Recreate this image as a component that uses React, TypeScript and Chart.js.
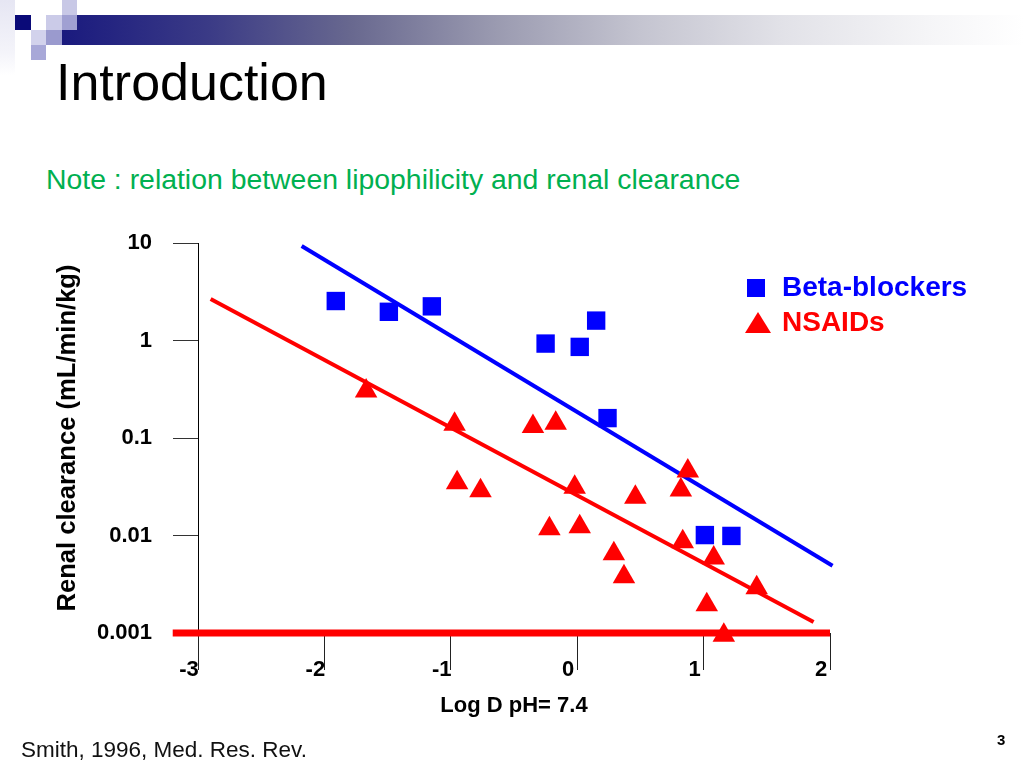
import React, { useEffect, useRef } from "react";
import { Chart, registerables } from "chart.js";

Chart.register(...registerables);

// ---- data ----
const xTickValues = [-3, -2, -1, 0, 1, 2];
const xTickLabels = ["-3", "-2", "-1", "0", "1", "2"];
const yTickValues = [10, 1, 0.1, 0.01, 0.001];
const yTickLabels = ["10", "1", "0.1", "0.01", "0.001"];

const betaLogD = [-1.91, -1.49, -1.15, -0.25, 0.02, 0.15, 0.24, 1.01, 1.22];
const betaClearance = [2.54, 1.97, 2.24, 0.93, 0.86, 1.6, 0.16, 0.0101, 0.0099];

const nsaidLogD = [-1.67, -0.97, -0.35, -0.17, 0.875, -0.95, -0.765, -0.02, 0.46, 0.82, -0.22, 0.02, 0.835, 0.29, 1.08, 0.37, 1.42, 1.025, 1.16];
const nsaidClearance = [0.303, 0.138, 0.131, 0.142, 0.0459, 0.0348, 0.0288, 0.0312, 0.0247, 0.0293, 0.01175, 0.0123, 0.00865, 0.0065, 0.00587, 0.00378, 0.00292, 0.00195, 0.00095];

const betaFitLogD = [-2.18, 2.02];
const betaFitClearance = [9.3, 0.0049];
const nsaidFitLogD = [-2.9, 1.87];
const nsaidFitClearance = [2.67, 0.0013];
const baselineLogD = [-3.2, 2];
const baselineClearance = [0.001, 0.001];

const seriesNames = ["Beta-blockers", "NSAIDs"];

const FONT = '"Liberation Sans", Arial, Helvetica, sans-serif';
const BLUE = "#0000FF";
const RED = "#FF0000";

const pts = (xs: number[], ys: number[]) => xs.map((x, i) => ({ x, y: ys[i] }));

export default function App() {
  const canvasRef = useRef<HTMLCanvasElement | null>(null);

  useEffect(() => {
    if (!canvasRef.current) return;
    const chart = new Chart(canvasRef.current, {
      type: "scatter",
      data: {
        datasets: [
          {
            label: seriesNames[0],
            data: pts(betaLogD, betaClearance),
            pointStyle: "rect",
            pointRadius: 13,
            pointBorderWidth: 0,
            backgroundColor: BLUE,
            borderColor: BLUE,
            clip: false,
            order: 1,
          },
          {
            label: seriesNames[1],
            data: pts(nsaidLogD, nsaidClearance),
            pointStyle: "triangle",
            pointRadius: 13,
            pointBorderWidth: 0,
            backgroundColor: RED,
            borderColor: RED,
            clip: false,
            order: 1,
          },
          {
            label: "fit-beta",
            data: pts(betaFitLogD, betaFitClearance),
            showLine: true,
            borderColor: BLUE,
            borderWidth: 4,
            pointRadius: 0,
            clip: false,
            order: 2,
          },
          {
            label: "fit-nsaid",
            data: pts(nsaidFitLogD, nsaidFitClearance),
            showLine: true,
            borderColor: RED,
            borderWidth: 4,
            pointRadius: 0,
            clip: false,
            order: 2,
          },
          {
            label: "baseline",
            data: pts(baselineLogD, baselineClearance),
            showLine: true,
            borderColor: RED,
            borderWidth: 7,
            pointRadius: 0,
            clip: false,
            order: 3,
          },
        ],
      },
      options: {
        animation: false,
        responsive: false,
        maintainAspectRatio: false,
        devicePixelRatio: 1,
        layout: { padding: { left: 50, top: 243, right: 194, bottom: 49 } },
        plugins: { legend: { display: false }, tooltip: { enabled: false } },
        scales: {
          x: {
            type: "linear",
            min: -3,
            max: 2,
            afterBuildTicks: (scale: any) => {
              scale.ticks = xTickValues.map((v) => ({ value: v }));
            },
            afterFit: (scale: any) => {
              scale.height = 86;
            },
            ticks: {
              callback: (_v: any, i: number) => xTickLabels[i],
              font: { family: FONT, size: 22, weight: "bold" },
              color: "#000",
              padding: -13,
              labelOffset: -9,
              maxRotation: 0,
            },
            grid: { display: true, drawOnChartArea: false, drawTicks: true, tickLength: 37, color: "#222", lineWidth: 1 },
            border: { display: false },
            title: {
              display: true,
              text: "Log D pH= 7.4",
              font: { family: FONT, size: 22, weight: "bold" },
              color: "#000",
              padding: { top: 0, bottom: 0 },
            },
          },
          y: {
            type: "logarithmic",
            min: 0.001,
            max: 10,
            afterBuildTicks: (scale: any) => {
              scale.ticks = yTickValues.map((v) => ({ value: v }));
            },
            afterFit: (scale: any) => {
              scale.width = 148;
            },
            ticks: {
              callback: (_v: any, i: number) => yTickLabels[i],
              font: { family: FONT, size: 22, weight: "bold" },
              color: "#000",
              padding: 21,
            },
            grid: { display: true, drawOnChartArea: false, drawTicks: true, tickLength: 25, color: "#333", lineWidth: 1 },
            border: { display: true, color: "#000", width: 1 },
            title: {
              display: true,
              text: "Renal clearance (mL/min/kg)",
              font: { family: FONT, size: 25.6, weight: "bold" },
              color: "#000",
              padding: { top: 3, bottom: 0 },
            },
          },
        },
      },
    } as any);
    return () => chart.destroy();
  }, []);

  const abs = (s: React.CSSProperties): React.CSSProperties => ({ position: "absolute", ...s });

  return (
    <div style={{ position: "absolute", left: 0, top: 0, width: 1024, height: 768, background: "#fff", overflow: "hidden", fontFamily: FONT }}>
      {/* slide decoration */}
      <div style={abs({ left: 0, top: 0, width: 15, height: 75, background: "linear-gradient(to bottom, #e6e6f3, #f4f4fa 70%, #ffffff)" })} />
      <div
        style={abs({
          left: 62,
          top: 15,
          width: 962,
          height: 30,
          background:
            "linear-gradient(to right, #1a1a7e 0%, #3a3a86 15%, #68688f 30%, #9a9ab0 45%, #c4c4d0 60%, #e2e2e8 75%, #f5f5f7 90%, #ffffff 100%)",
        })}
      />
      <div style={abs({ left: 62, top: 0, width: 15, height: 15, background: "#c8c8e6" })} />
      <div style={abs({ left: 15, top: 15, width: 16, height: 15, background: "#0a0a78" })} />
      <div style={abs({ left: 46, top: 15, width: 16, height: 15, background: "#cbcbe8" })} />
      <div style={abs({ left: 62, top: 15, width: 15, height: 15, background: "#a0a0d2" })} />
      <div style={abs({ left: 31, top: 30, width: 15, height: 15, background: "#d2d2ec" })} />
      <div style={abs({ left: 46, top: 30, width: 16, height: 15, background: "#9a9ace" })} />
      <div style={abs({ left: 31, top: 45, width: 15, height: 15, background: "#a8a8d8" })} />

      <div style={abs({ left: 56, top: 56, fontSize: 52, lineHeight: 1, color: "#000", whiteSpace: "nowrap" })}>Introduction</div>
      <div style={abs({ left: 46, top: 165, fontSize: 28.4, lineHeight: 1, color: "#00B050", whiteSpace: "nowrap" })}>
        Note : relation between lipophilicity and renal clearance
      </div>

      <canvas ref={canvasRef} width={1024} height={768} style={abs({ left: 0, top: 0, width: 1024, height: 768 })} />

      {/* legend */}
      <div style={abs({ left: 747, top: 279, width: 18, height: 18, background: BLUE })} />
      <div
        style={abs({
          left: 745,
          top: 312,
          width: 0,
          height: 0,
          borderLeft: "13px solid transparent",
          borderRight: "13px solid transparent",
          borderBottom: "21px solid " + RED,
        })}
      />
      <div style={abs({ left: 782, top: 273, fontSize: 28, fontWeight: "bold", lineHeight: 1, color: BLUE, whiteSpace: "nowrap" })}>
        {seriesNames[0]}
      </div>
      <div style={abs({ left: 782, top: 308, fontSize: 28, fontWeight: "bold", lineHeight: 1, color: RED, whiteSpace: "nowrap" })}>
        {seriesNames[1]}
      </div>

      <div style={abs({ left: 21, top: 739, fontSize: 22.5, lineHeight: 1, color: "#111", whiteSpace: "nowrap" })}>Smith, 1996, Med. Res. Rev.</div>
      <div style={abs({ left: 997, top: 732, fontSize: 15, fontWeight: "bold", lineHeight: 1, color: "#000" })}>3</div>
    </div>
  );
}
